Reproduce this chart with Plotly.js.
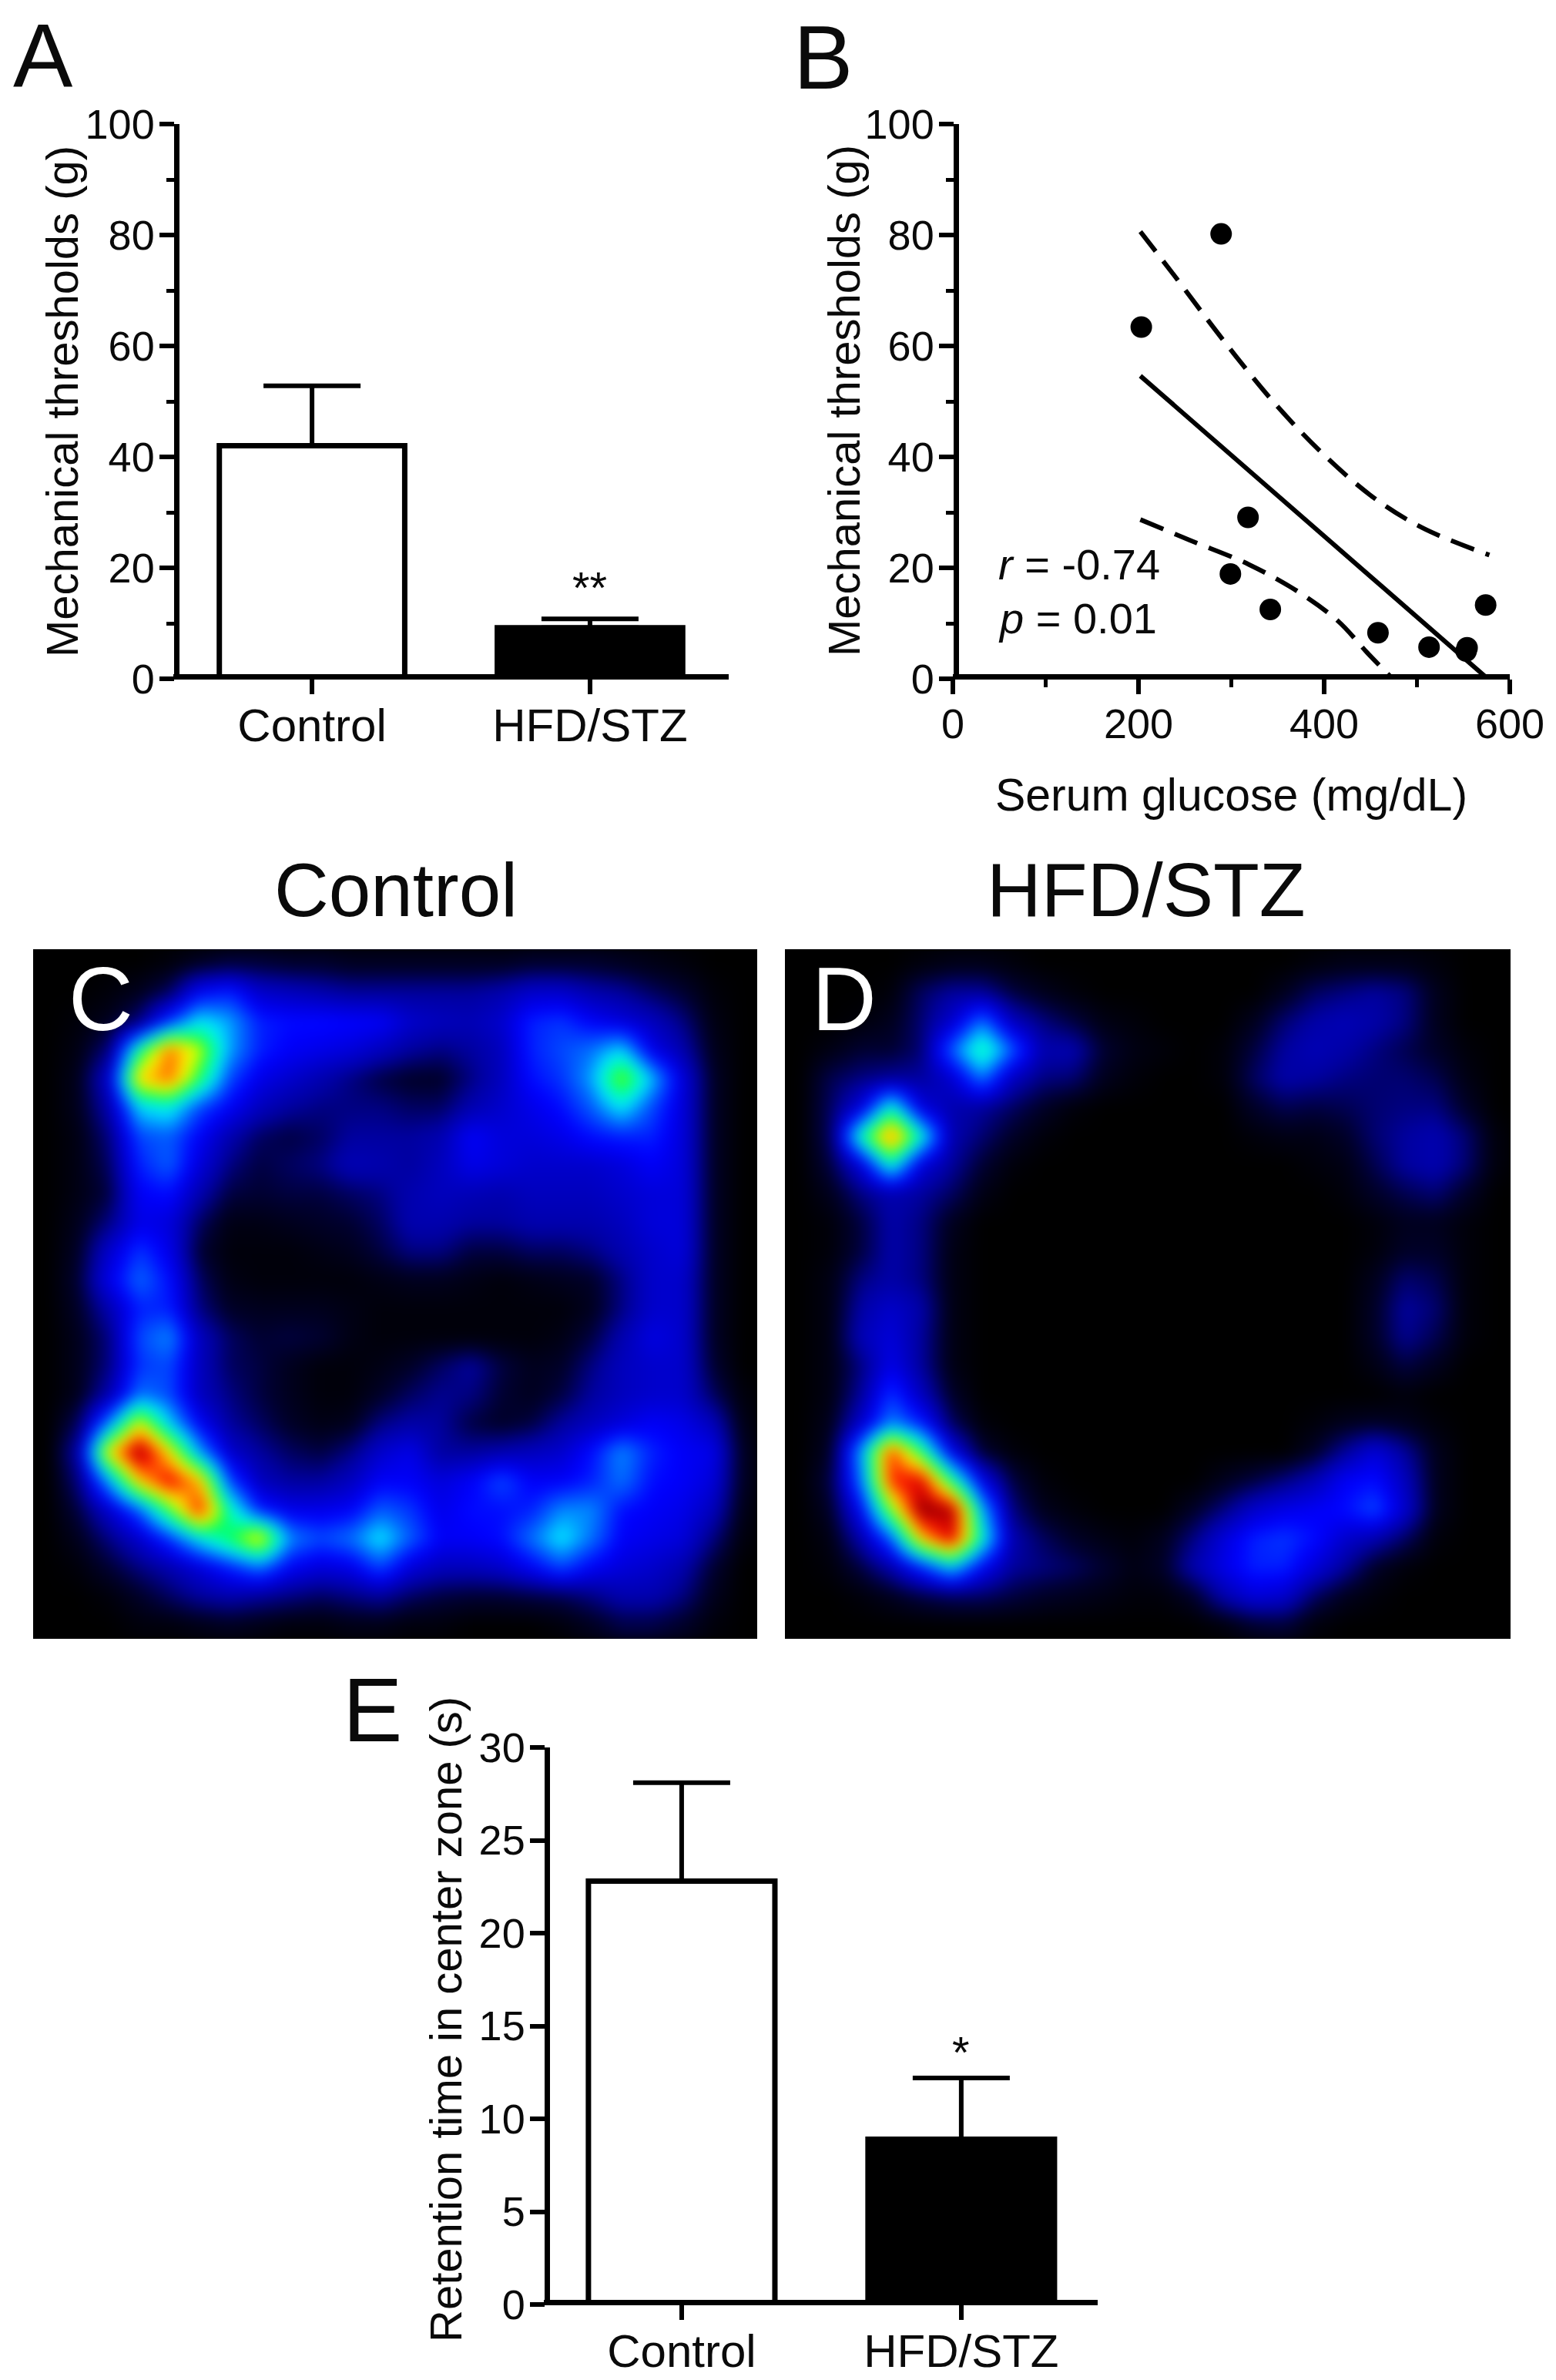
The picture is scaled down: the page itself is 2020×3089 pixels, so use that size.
<!DOCTYPE html>
<html>
<head>
<meta charset="utf-8">
<script src="https://cdn.plot.ly/plotly-3.0.1.min.js"></script>
<style>
  html, body { margin: 0; padding: 0; background: #fff; }
  #fig { width: 2020px; height: 3089px; }
</style>
</head>
<body>
<div id="fig"></div>
<script>
// Datos
const grupos = ["Control", "HFD/STZ"];

const umbralMedia = [42, 9.2];
const umbralError = [10.8, 1.6];

const glucosa = [203, 289, 318, 299, 342, 458, 513, 554, 553, 574];
const umbralPuntos = [63.4, 80.2, 29.1, 18.9, 12.5, 8.3, 5.7, 5.6, 5.0, 13.3];

const rectaX = [202, 573];
const rectaY = [54.6, 0.5];
const ciSupX = [202, 239, 292, 346, 399, 453, 506, 578];
const ciSupY = [80.6, 72.6, 60.9, 49.8, 40.5, 32.7, 27.2, 22.3];
const ciInfX = [202, 255, 319, 372, 415, 447, 472];
const ciInfY = [28.7, 25, 20.6, 15.7, 10.4, 4.6, 0.3];

const retencionMedia = [22.8, 8.9];
const retencionError = [5.3, 3.3];

// mapas de calor, 24 x 24, fila 0 arriba (valores estimados a ojo)
const heatControl = [
  [0,0,0,0,1,3,5,5,4,4,3,3,3,3,3,3,4,4,4,3,2,1,0,0],
  [0,0,1,3,8,24,28,18,16,14,12,12,12,12,12,14,18,18,14,12,8,5,1,0],
  [0,1,3,10,30,46,40,28,26,26,25,24,18,16,15,18,28,30,24,20,16,10,2,0],
  [0,2,10,54,84,68,40,28,24,22,20,16,12,10,12,16,28,32,36,44,22,14,3,0],
  [0,3,18,76,84,58,32,22,18,14,10,6,4,4,10,16,26,30,40,66,42,20,4,0],
  [0,3,14,44,48,32,24,16,12,10,10,10,8,8,14,18,22,26,34,46,32,20,4,0],
  [0,2,10,32,34,24,14,8,6,8,12,12,12,14,24,20,20,22,26,28,28,20,4,0],
  [0,2,8,28,34,20,10,6,8,10,15,14,12,16,22,20,18,18,18,20,24,20,4,0],
  [0,2,6,24,26,14,6,5,6,6,8,10,14,16,15,14,16,16,16,18,20,20,4,0],
  [0,3,10,22,20,8,2,2,3,4,5,8,14,14,12,12,14,14,14,16,20,20,4,0],
  [0,4,18,30,22,5,1,1,1,2,3,6,10,10,6,6,8,8,10,14,18,20,4,0],
  [0,5,22,35,26,8,2,1,1,1,1,2,3,3,2,1,2,3,4,10,18,18,4,0],
  [0,4,14,28,28,10,4,3,3,3,2,1,1,1,1,1,1,1,3,10,18,18,4,0],
  [0,3,10,32,38,16,8,5,6,5,2,1,1,1,1,1,1,2,6,14,21,18,4,0],
  [0,3,10,30,32,16,8,6,3,1,1,2,4,8,12,6,3,4,10,16,18,18,5,0],
  [0,3,14,36,32,16,10,6,3,1,1,4,8,11,10,5,3,6,12,16,18,18,8,1],
  [0,8,38,72,44,24,12,8,4,2,3,10,13,12,6,4,6,12,16,20,24,22,16,2],
  [0,14,74,100,74,40,18,12,8,6,10,18,22,12,12,14,16,18,26,38,28,24,22,3],
  [0,10,40,76,92,78,32,16,12,12,16,24,24,20,24,32,24,24,28,36,26,24,20,3],
  [0,6,18,34,60,90,52,28,22,22,24,34,30,22,26,26,28,38,38,26,24,22,16,2],
  [0,3,10,18,30,46,58,74,38,32,36,46,34,24,24,26,36,46,36,24,22,20,10,1],
  [0,1,5,10,14,20,28,36,24,20,22,32,20,16,16,18,24,32,24,20,18,14,5,0],
  [0,0,1,4,8,12,14,12,10,8,10,12,8,6,5,5,6,7,10,14,14,10,3,0],
  [0,0,0,1,1,2,3,2,1,1,2,2,1,1,0,0,0,1,3,6,6,4,1,0],
];

const heatHfd = [
  [0,0,0,0,1,2,2,1,0,0,0,0,0,0,0,0,0,1,2,2,2,1,0,0],
  [0,0,0,1,8,12,12,6,3,1,0,0,0,0,0,0,3,8,10,12,10,3,0,0],
  [0,0,1,3,9,18,36,16,10,6,2,1,0,0,0,3,9,13,15,13,10,3,0,0],
  [0,2,5,5,9,34,54,34,14,14,5,2,1,0,1,6,12,15,13,10,7,4,1,0],
  [0,7,10,12,12,18,36,16,10,9,3,1,0,0,1,8,13,12,10,9,9,7,2,0],
  [0,8,20,50,20,14,12,8,4,1,0,0,0,0,0,4,7,6,7,9,10,10,4,0],
  [0,8,52,84,50,14,9,4,1,0,0,0,0,0,0,1,2,2,4,9,12,14,9,1],
  [0,6,20,50,20,12,5,1,0,0,0,0,0,0,0,0,0,1,2,7,12,14,9,1],
  [0,3,10,14,12,8,2,0,0,0,0,0,0,0,0,0,0,0,1,4,7,9,4,0],
  [0,1,6,13,10,3,0,0,0,0,0,0,0,0,0,0,0,0,0,1,3,3,1,0],
  [0,1,6,13,10,2,0,0,0,0,0,0,0,0,0,0,0,0,0,1,4,4,1,0],
  [0,2,10,13,10,2,0,0,0,0,0,0,0,0,0,0,0,0,0,3,9,7,1,0],
  [0,2,13,18,13,2,0,0,0,0,0,0,0,0,0,0,0,0,0,4,12,9,1,0],
  [0,2,15,20,12,2,0,0,0,0,0,0,0,0,0,0,0,0,0,4,11,7,1,0],
  [0,2,10,22,12,2,0,0,0,0,0,0,0,0,0,0,0,0,0,2,6,3,0,0],
  [0,2,12,30,16,4,0,0,0,0,0,0,0,0,0,0,0,0,0,0,1,0,0,0],
  [0,3,18,38,28,8,1,0,0,0,0,0,0,0,0,0,0,1,3,4,3,1,0,0],
  [0,4,40,88,58,22,5,1,0,0,0,0,0,0,0,0,0,4,12,20,12,3,0,0],
  [0,6,36,88,94,56,22,6,1,0,0,0,0,0,3,6,10,15,24,26,16,3,0,0],
  [0,4,24,64,100,98,42,10,3,1,0,0,0,4,10,18,22,24,26,32,18,3,0,0],
  [0,2,14,34,76,94,50,14,8,4,2,1,3,10,20,28,30,26,18,14,8,1,0,0],
  [0,1,6,14,28,44,24,12,10,8,5,2,4,14,22,28,28,20,12,4,1,0,0,0],
  [0,0,1,3,6,8,8,6,4,3,2,1,1,4,14,20,18,8,3,1,0,0,0,0],
  [0,0,0,0,0,0,0,0,0,0,0,0,0,0,1,4,5,1,0,0,0,0,0,0],
];

const escalaCalor = [
  [0, "#000000"], [0.05, "#000030"], [0.12, "#0000a0"], [0.25, "#0000ff"], [0.36, "#0070ff"],
  [0.45, "#00e6ff"], [0.52, "#00ffc0"], [0.58, "#00ff60"], [0.66, "#a0ff00"],
  [0.72, "#ffff00"], [0.80, "#ffa000"], [0.88, "#ff2000"], [0.95, "#d00000"], [1, "#800000"],
];

const W = 2020, H = 3089;
const FUENTE = '"Liberation Sans", Arial, sans-serif';
const NEGRO = "#0a0a0a";
const GROSOR = 7;

const domX = (a, b) => [a / W, b / W];
const domY = (arriba, abajo) => [1 - abajo / H, 1 - arriba / H];
// Plotly dibuja la linea del eje por fuera del area; con anchor free se centra sobre el borde
const posX = (px) => (px + GROSOR / 2) / W;
const posY = (px) => 1 - (px - GROSOR / 2) / H;

function barras(xa, ya, media, error) {
  return {
    type: "bar", xaxis: xa, yaxis: ya, x: grupos, y: media, width: 0.667,
    marker: { color: ["#fff", "#000"], line: { color: "#000", width: GROSOR } },
    error_y: { type: "data", symmetric: false, array: error, arrayminus: [0, 0], color: "#000", thickness: 6, width: 63 },
    cliponaxis: false, hoverinfo: "skip",
  };
}

function calor(xa, ya, z) {
  return {
    type: "heatmap", xaxis: xa, yaxis: ya, z: z, zmin: 0, zmax: 100, zsmooth: "best",
    colorscale: escalaCalor, showscale: false, hoverinfo: "skip",
  };
}

function ejeCat(dom, rango, abajoPx) {
  return {
    domain: dom, range: rango, type: "category", showgrid: false, zeroline: false, showline: true,
    anchor: "free", position: posY(abajoPx),
    linecolor: "#000", linewidth: GROSOR, ticks: "outside", ticklen: 19, tickwidth: 6, tickcolor: "#000",
    tickfont: { family: FUENTE, size: 60, color: NEGRO }, ticklabelstandoff: -11, automargin: false, fixedrange: true,
  };
}

function ejeNum(dom, rango, dtick, menor) {
  const eje = {
    domain: dom, range: rango, dtick: dtick, tick0: 0, showgrid: false, zeroline: false, showline: true,
    linecolor: "#000", linewidth: GROSOR, ticks: "outside", ticklen: 19, tickwidth: 6, tickcolor: "#000",
    tickfont: { family: FUENTE, size: 54, color: NEGRO }, automargin: false, fixedrange: true,
  };
  if (menor) eje.minor = { dtick: menor, tick0: 0, ticks: "outside", ticklen: 10, tickwidth: 5, tickcolor: "#000", showgrid: false };
  return eje;
}

function ejeOculto(dom, rango) {
  return { domain: dom, range: rango, visible: false, fixedrange: true };
}

function letra(txt, x, y, color, size) {
  return {
    text: txt, xref: "paper", yref: "paper", x: x / W, y: 1 - y / H, xanchor: "center", yanchor: "middle",
    showarrow: false, font: { family: FUENTE, size: size || 116, color: color || NEGRO },
  };
}

function tituloY(txt, x, y) {
  return Object.assign(letra(txt, x, y, NEGRO, 58), { textangle: -90 });
}

function fondoNegro(xa, ya) {
  return {
    type: "rect", xref: xa + " domain", yref: ya + " domain", x0: 0, x1: 1, y0: 0, y1: 1,
    fillcolor: "#000", line: { width: 0 }, layer: "below",
  };
}

const trazas = [
  barras("x", "y", umbralMedia, umbralError),

  { type: "scatter", mode: "lines", xaxis: "x2", yaxis: "y2", x: ciSupX, y: ciSupY,
    line: { color: "#000", width: 6, dash: "32px,16px", shape: "spline" }, hoverinfo: "skip" },
  { type: "scatter", mode: "lines", xaxis: "x2", yaxis: "y2", x: ciInfX, y: ciInfY,
    line: { color: "#000", width: 6, dash: "32px,16px", shape: "spline" }, hoverinfo: "skip" },
  { type: "scatter", mode: "lines", xaxis: "x2", yaxis: "y2", x: rectaX, y: rectaY,
    line: { color: "#000", width: 6 }, hoverinfo: "skip" },
  { type: "scatter", mode: "markers", xaxis: "x2", yaxis: "y2", x: glucosa, y: umbralPuntos,
    marker: { color: "#000", size: 28 }, cliponaxis: false, hoverinfo: "skip" },

  calor("x3", "y3", heatControl),
  calor("x4", "y4", heatHfd),

  barras("x5", "y5", retencionMedia, retencionError),
];

const ejeYA = Object.assign(ejeNum(domY(161, 881), [0, 100], 20, 10), { anchor: "free", position: posX(225), ticklabelstandoff: -5 });
const ejeYB = Object.assign(ejeNum(domY(161, 881), [0, 100], 20, 10), { anchor: "free", position: posX(1237), ticklabelstandoff: -5 });
const ejeYE = Object.assign(ejeNum(domY(2268, 2991), [0, 30], 5), { anchor: "free", position: posX(706), ticklabelstandoff: -5 });

const ejeXB = Object.assign(ejeNum(domX(1237, 1960), [0, 600], 200, 100), {
  anchor: "free", position: posY(881), ticklabelstandoff: -7,
  title: { text: "Serum glucose (mg/dL)", font: { family: FUENTE, size: 59, color: NEGRO }, standoff: 42 },
});

const layout = {
  width: W, height: H, showlegend: false, paper_bgcolor: "#fff", plot_bgcolor: "rgba(0,0,0,0)",
  margin: { l: 0, r: 0, t: 0, b: 0 }, bargap: 0.33,

  xaxis: ejeCat(domX(225, 946), [-0.499, 1.499], 881),
  yaxis: ejeYA,

  xaxis2: ejeXB,
  yaxis2: ejeYB,

  xaxis3: Object.assign(ejeOculto(domX(43, 983), [-0.5, 23.5]), { anchor: "y3" }),
  yaxis3: Object.assign(ejeOculto(domY(1232, 2127), [23.5, -0.5]), { anchor: "x3" }),

  xaxis4: Object.assign(ejeOculto(domX(1019, 1961), [-0.5, 23.5]), { anchor: "y4" }),
  yaxis4: Object.assign(ejeOculto(domY(1232, 2127), [23.5, -0.5]), { anchor: "x4" }),

  xaxis5: ejeCat(domX(706, 1425), [-0.493, 1.488], 2991),
  yaxis5: ejeYE,

  shapes: [fondoNegro("x3", "y3"), fondoNegro("x4", "y4")],

  annotations: [
    letra("A", 56, 73),
    letra("B", 1068, 75),
    letra("E", 483, 2220),
    letra("C", 131, 1297, "#fff"),
    letra("D", 1096, 1297, "#fff"),
    letra("Control", 514, 1155, NEGRO, 98),
    letra("HFD/STZ", 1488, 1155, NEGRO, 98),
    tituloY("Mechanical thresholds (g)", 80, 521),
    tituloY("Mechanical thresholds (g)", 1095, 520),
    tituloY("Retention time in center zone (s)", 578, 2621),
    { text: "**", xref: "x", yref: "y", x: "HFD/STZ", y: 16.5, showarrow: false, font: { family: FUENTE, size: 58, color: NEGRO } },
    { text: "*", xref: "x5", yref: "y5", x: "HFD/STZ", y: 13.6, showarrow: false, font: { family: FUENTE, size: 58, color: NEGRO } },
    { text: "<i>r</i> = -0.74", xref: "x2", yref: "y2", x: 47, y: 20.6, xanchor: "left", showarrow: false, font: { family: FUENTE, size: 56, color: NEGRO } },
    { text: "<i>p</i> = 0.01", xref: "x2", yref: "y2", x: 47, y: 10.9, xanchor: "left", showarrow: false, font: { family: FUENTE, size: 56, color: NEGRO } },
  ],
};

Plotly.newPlot("fig", trazas, layout, { displayModeBar: false, responsive: false }).then(() => {
  // el original viene muy suavizado: quita las puntas del interpolado bilineal
  document.querySelectorAll(".heatmaplayer image").forEach((img) => {
    img.style.filter = "blur(9px)";
  });
});
</script>
</body>
</html>
